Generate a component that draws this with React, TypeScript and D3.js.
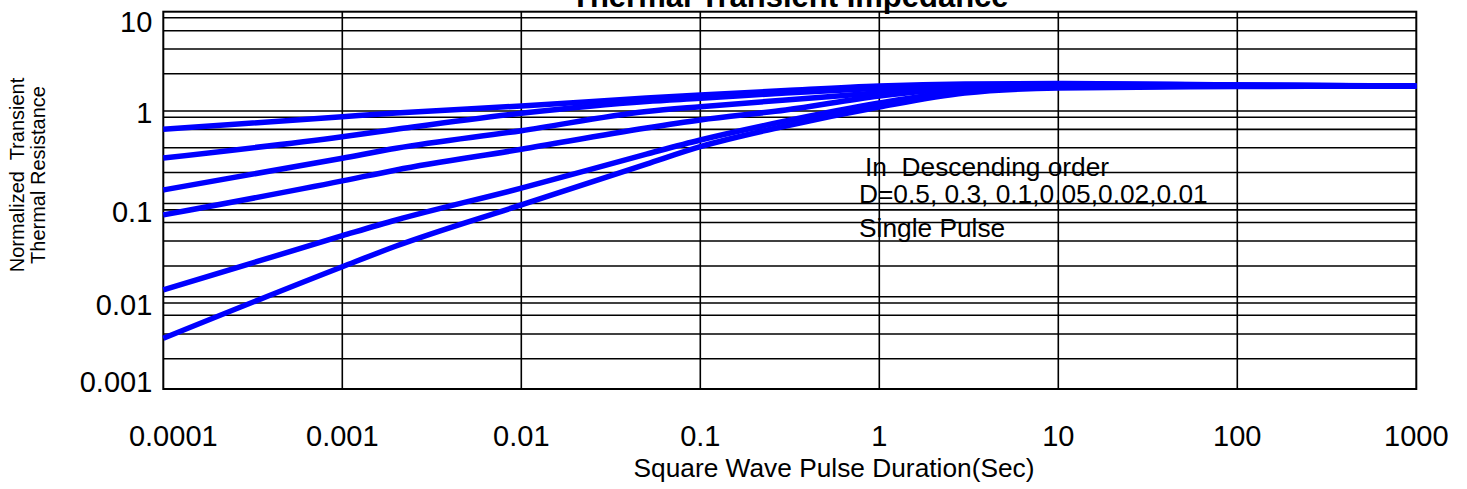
import { useEffect, useRef } from 'react'
import * as d3 from 'd3'

const durations = [1e-4, 1e-3, 2e-3, 1e-2, 0.05, 0.1, 0.3, 1, 3, 10, 100, 1000]

// normalized transient thermal resistance, top curve to bottom curve
const duty050 = [0.684, 0.918, 1.0, 1.194, 1.461, 1.577, 1.767, 1.98, 2.083, 2.11, 2.031, 1.98]
const duty030 = [0.351, 0.576, 0.684, 0.993, 1.338, 1.45, 1.659, 1.868, 2.005, 2.083, 2.031, 1.98]
const duty010 = [0.167, 0.349, 0.44, 0.663, 1.039, 1.173, 1.39, 1.671, 1.931, 2.031, 2.005, 1.98]
const duty005 = [0.093, 0.206, 0.266, 0.43, 0.706, 0.85, 1.079, 1.537, 1.883, 2.005, 2.005, 1.98]
const duty002 = [0.0145, 0.0556, 0.082, 0.174, 0.385, 0.534, 0.83, 1.288, 1.745, 1.931, 1.98, 1.98]
const singlePulse = [0.0037, 0.0258, 0.0431, 0.118, 0.305, 0.457, 0.739, 1.164, 1.659, 1.883, 1.955, 1.98]

const xTicks = [1e-4, 1e-3, 1e-2, 1e-1, 1, 10, 100, 1000]
const xTickLabels = ['0.0001', '0.001', '0.01', '0.1', '1', '10', '100', '1000']

const yTicks = [0.001, 0.01, 0.1, 1, 10]
const yTickLabels = ['0.001', '0.01', '0.1', '1', '10']

// horizontal rules of the datasheet grid (not evenly spaced in the original)
const yGrid = [11.15, 8.02, 5.05, 2.7, 1.05, 0.905, 0.684, 0.446, 0.251, 0.122, 0.105, 0.0771, 0.0488, 0.0263, 0.01228, 0.01051, 0.00735, 0.0042, 0.002]

const legendLines = ['In  Descending order', 'D=0.5, 0.3, 0.1,0.05,0.02,0.01', 'Single Pulse']

const FONT = '"Liberation Sans", Arial, Helvetica, sans-serif'

export default function App() {
  const svgRef = useRef<SVGSVGElement | null>(null)

  useEffect(() => {
    const svgNode = svgRef.current
    if (!svgNode) return

    const width = 1467
    const height = 489
    const plot = { left: 163.3, right: 1416.3, top: 11.7, bottom: 389 }

    const svg = d3.select(svgNode)
    svg.selectAll('*').remove()
    svg.attr('width', width).attr('height', height).attr('viewBox', `0 0 ${width} ${height}`)

    const x = d3.scaleLog().domain([1e-4, 1e3]).range([plot.left, plot.right])
    // decades are not evenly spaced in the source, so map log10 piecewise
    const yLog = d3.scaleLinear().domain([-3, -2, -1, 0, 1]).range([382, 305, 212, 113, 22])
    const y = (v: number) => yLog(Math.log10(v))

    svg.append('rect').attr('width', width).attr('height', height).attr('fill', '#ffffff')

    // title, clipped at the top like the source
    svg.append('text')
      .attr('x', (plot.left + plot.right) / 2)
      .attr('y', 7)
      .attr('text-anchor', 'middle')
      .attr('font-family', FONT)
      .attr('font-weight', 'bold')
      .attr('font-size', 31)
      .attr('fill', '#000')
      .text('Thermal Transient Impedance')

    const grid = svg.append('g')

    grid.selectAll('line.h')
      .data(yGrid)
      .join('line')
      .attr('class', 'h')
      .attr('x1', plot.left)
      .attr('x2', plot.right)
      .attr('y1', d => y(d))
      .attr('y2', d => y(d))
      .attr('stroke', '#000')
      .attr('stroke-width', 1.6)

    grid.selectAll('line.v')
      .data(xTicks.slice(1, -1))
      .join('line')
      .attr('class', 'v')
      .attr('x1', d => x(d))
      .attr('x2', d => x(d))
      .attr('y1', plot.top)
      .attr('y2', plot.bottom)
      .attr('stroke', '#000')
      .attr('stroke-width', 1.6)

    svg.append('rect')
      .attr('x', plot.left)
      .attr('y', plot.top)
      .attr('width', plot.right - plot.left)
      .attr('height', plot.bottom - plot.top)
      .attr('fill', 'none')
      .attr('stroke', '#000')
      .attr('stroke-width', 2)

    const series = [duty050, duty030, duty010, duty005, duty002, singlePulse]

    const line = d3.line<number>()
      .x((_, i) => x(durations[i]))
      .y(d => y(d))
      .curve(d3.curveMonotoneX)

    svg.append('g')
      .selectAll('path')
      .data(series)
      .join('path')
      .attr('d', d => line(d))
      .attr('fill', 'none')
      .attr('stroke', '#0000ff')
      .attr('stroke-width', 5.5)
      .attr('stroke-linejoin', 'round')

    // legend note
    const legendX = [865, 859, 859]
    const legendY = [176, 203, 237]
    svg.append('g')
      .selectAll('text')
      .data(legendLines)
      .join('text')
      .attr('x', (_, i) => legendX[i])
      .attr('y', (_, i) => legendY[i])
      .attr('font-family', FONT)
      .attr('font-size', 26.3)
      .attr('fill', '#000')
      .style('white-space', 'pre')
      .text(d => d)

    // y tick labels
    svg.append('g')
      .selectAll('text')
      .data(yTicks)
      .join('text')
      .attr('x', plot.left - 11)
      .attr('y', d => y(d))
      .attr('dy', '0.36em')
      .attr('text-anchor', 'end')
      .attr('font-family', FONT)
      .attr('font-size', 29)
      .attr('fill', '#000')
      .text((_, i) => yTickLabels[i])

    // x tick labels
    svg.append('g')
      .selectAll('text')
      .data(xTicks)
      .join('text')
      .attr('x', (d, i) => x(d) + (i === 0 ? 10 : 0))
      .attr('y', 446)
      .attr('text-anchor', 'middle')
      .attr('font-family', FONT)
      .attr('font-size', 29)
      .attr('fill', '#000')
      .text((_, i) => xTickLabels[i])

    svg.append('text')
      .attr('x', 834)
      .attr('y', 477)
      .attr('text-anchor', 'middle')
      .attr('font-family', FONT)
      .attr('font-size', 26.3)
      .attr('fill', '#000')
      .text('Square Wave Pulse Duration(Sec)')

    const yTitle = svg.append('text')
      .attr('transform', 'translate(0,175) rotate(-90)')
      .attr('text-anchor', 'middle')
      .attr('font-family', FONT)
      .attr('font-size', 20)
      .attr('fill', '#000')
      .style('white-space', 'pre')

    yTitle.append('tspan').attr('x', 0).attr('y', 24).text('Normalized  Transient')
    yTitle.append('tspan').attr('x', 0).attr('y', 45).text('Thermal Resistance')
  }, [])

  return (
    <svg
      ref={svgRef}
      style={{ position: 'absolute', left: 0, top: 0, display: 'block' }}
    />
  )
}
